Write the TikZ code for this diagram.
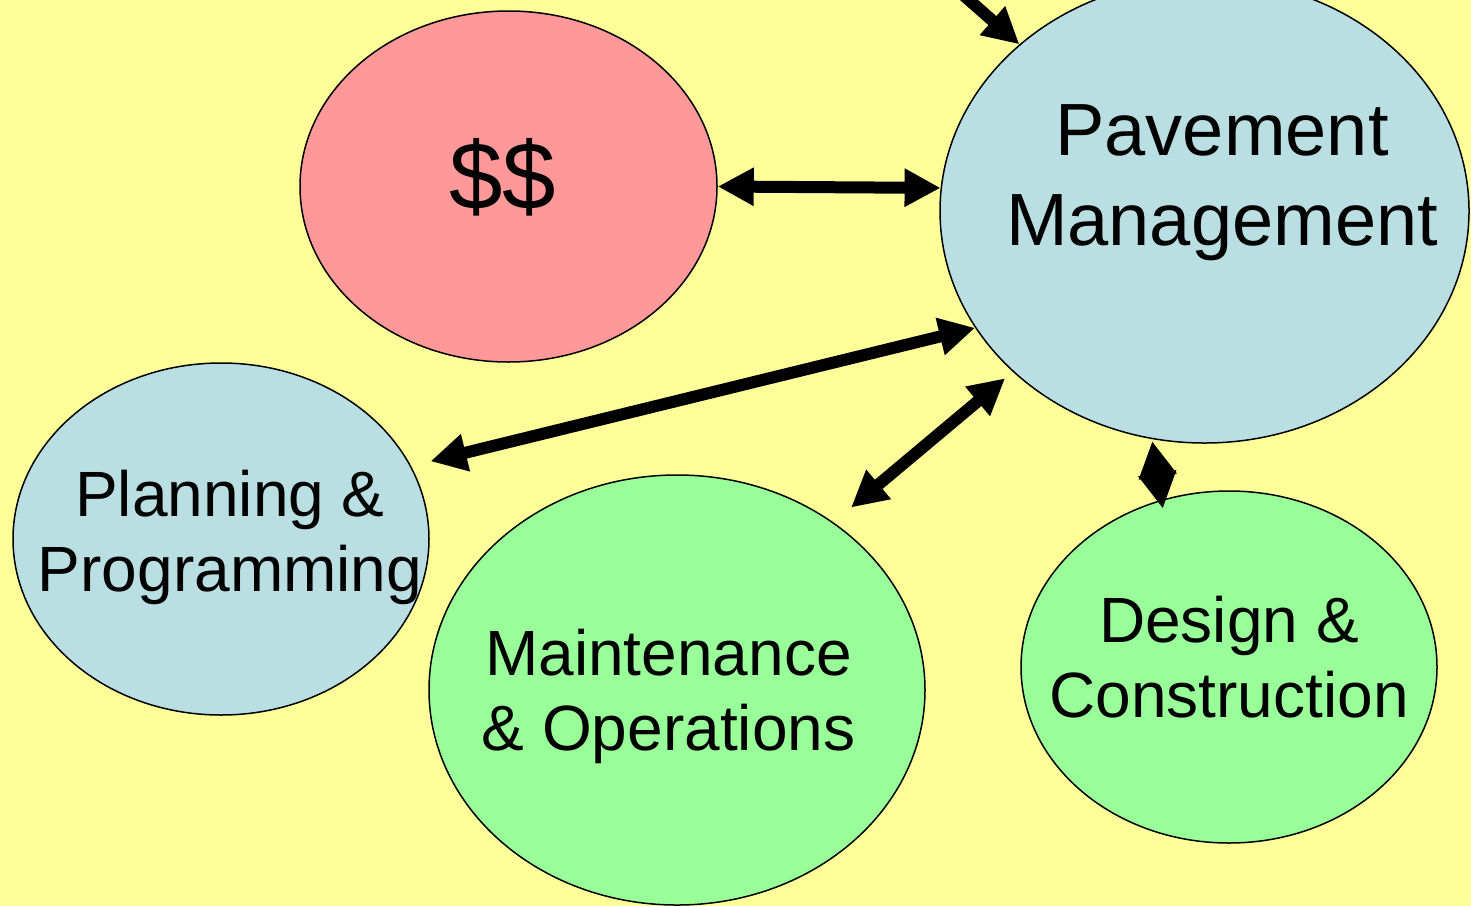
\documentclass[tikz,border=0pt]{standalone}
\usepackage{fontspec}
\setmainfont{Liberation Sans}
\usetikzlibrary{arrows.meta,shapes.geometric}
\definecolor{bgyel}{HTML}{FFFF99}
\definecolor{cashred}{HTML}{FF9999}
\definecolor{pmblue}{HTML}{B9DFE3}
\definecolor{opgreen}{HTML}{99FF99}

\begin{document}
\begin{tikzpicture}[x=0.5pt, y=-0.5pt,
  >={Triangle[length=18pt, width=18pt]},
  blob/.style={ellipse, draw=black, line width=0.75pt, inner sep=0pt},
  txt/.style={font=\fontsize{32}{37.5}\selectfont, align=center},
  link/.style={line width=6pt, <->}]
% ----- page -----
\fill[bgyel] (0,0) rectangle (1471,906);
\useasboundingbox (0,0) rectangle (1471,906);
% ----- bubbles -----
\node[blob, fill=cashred, minimum width=208.5pt, minimum height=175.5pt,
  label={[font=\fontsize{48}{56}\selectfont, xshift=-3pt, yshift=4.5pt]center:\$\$}]
  (dollar) at (508.5,186.5) {};
\node[blob, fill=pmblue, minimum width=264.5pt, minimum height=232pt,
  label={[font=\fontsize{37}{45}\selectfont, align=center, xshift=8.75pt, yshift=14pt]center:{Pavement\\Management}}]
  (pm) at (1204.5,211) {};
\node[blob, fill=pmblue, minimum width=208pt, minimum height=176pt,
  label={[txt, xshift=4.5pt, yshift=1pt]center:{Planning \&\\Programming}}]
  (pp) at (221,539) {};
\node[blob, fill=opgreen, minimum width=248pt, minimum height=215pt,
  label={[txt, xshift=-4.25pt, yshift=-3pt]center:{Maintenance\\\& Operations}}]
  (mo) at (677,690) {};
\node[blob, fill=opgreen, minimum width=208pt, minimum height=176pt,
  label={[txt, yshift=5pt]center:{Design \&\\Construction}}]
  (dc) at (1229,667) {};
% ----- links -----
\coordinate (feed) at (869,-88);
\draw[line width=6pt, ->] (feed) -- (pm.138);
\foreach \a/\b/\s/\t in {dollar.east/pm.175/0pt/0pt,
                         pp.21/pm.207/10pt/0pt,
                         mo.47/pm.220/11.5pt/5pt,
                         pm.257/dc.112/1pt/-4.5pt}{
  \draw[link, shorten <=\s, shorten >=\t] (\a) -- (\b);
}
\end{tikzpicture}
\end{document}
